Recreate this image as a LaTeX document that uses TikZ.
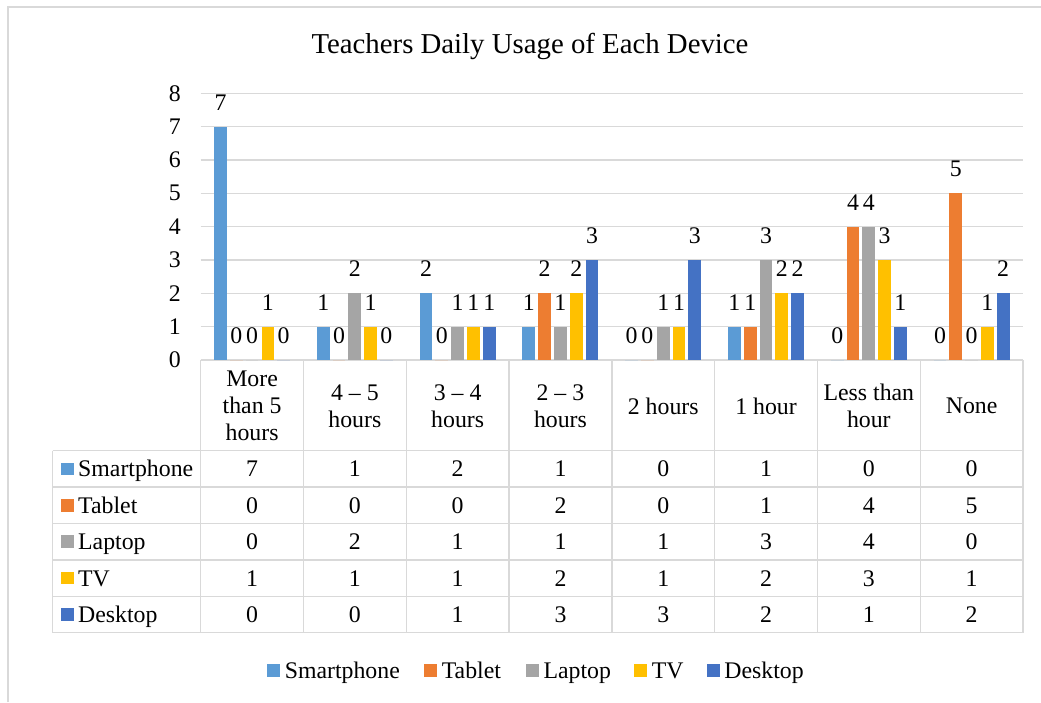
\documentclass[tikz,border=0pt]{standalone}
\usepackage{fontspec}
\setmainfont{Liberation Serif}
\definecolor{cSmart}{HTML}{5B9BD5}
\definecolor{cTab}{HTML}{ED7D31}
\definecolor{cLap}{HTML}{A5A5A5}
\definecolor{cTV}{HTML}{FFC000}
\definecolor{cDesk}{HTML}{4472C4}
\definecolor{gridgray}{HTML}{D9D9D9}

% geometry (pixel units, y grows downwards)
\def\plotL{200.7}   % left edge of plot / table data columns
\def\plotR{1023}    % right edge
\def\catW{102.79}   % width of one category
\def\zeroY{360}     % baseline of the bars
\def\unitY{33.34}   % one unit on the value axis
\def\rowTop{450.7}  % top of the first data row
\def\rowH{36.4}     % height of a data row

% bars and value labels of one series: #1 index, #2 colour, #3 values
\newcommand\drawseries[3]{%
  \foreach \v [count=\c from 0] in {#3} {
    \pgfmathsetmacro\xl{\plotL+\catW*\c+13.4+15.8*#1}
    \pgfmathsetmacro\yt{\zeroY-\unitY*\v}
    \fill[#2] (\xl,\zeroY) rectangle ({\xl+12.7},\yt);
    \node[vlab] (v#1-\c) at ({\xl+6.35},{\yt-16.5}) {\v};
  }
}

% one table row: #1 index, #2 colour, #3 name, #4 values
\newcommand\tablerow[4]{%
  \pgfmathsetmacro\yc{\rowTop+\rowH*#1+\rowH/2}
  \fill[#2] (61,{\yc-6.3}) rectangle (73.7,{\yc+6.3});
  \node[tbl,anchor=base west] (name#1) at (78,{\yc+8}) {#3};
  \foreach \v [count=\c from 0] in {#4} {
    \node[tbl,anchor=base] (t#1-\c) at ({\plotL+\catW*\c+\catW/2},{\yc+8}) {\v};
  }
}

\begin{document}
\begin{tikzpicture}[x=1pt,y=-1pt,
  gridline/.style={draw=gridgray,line width=1.4pt},
  frameline/.style={draw=gridgray,line width=1.2pt},
  vlab/.style={font=\fontsize{23.8}{27}\selectfont,inner sep=0pt,anchor=base},
  tbl/.style={font=\fontsize{23.8}{27}\selectfont,inner sep=0pt},
  hdr/.style={font=\fontsize{23.8}{27}\selectfont,inner sep=0pt,align=center},
  legtext/.style={font=\fontsize{23.8}{27}\selectfont,inner sep=0pt,anchor=base west},
  titletext/.style={font=\fontsize{28.8}{32}\selectfont,inner sep=0pt,anchor=base}]
\useasboundingbox (0,0) rectangle (1041,702);
\fill[white] (0,0) rectangle (1041,702);

% chart frame
\draw[frameline] (8,702) -- (8,7) -- (1041,7);

% title
\node[titletext] (title) at (530,53.3) {Teachers Daily Usage of Each Device};

% horizontal grid lines and value axis labels
\foreach \v in {0,...,8} {
  \draw[gridline] (\plotL,{\zeroY-\unitY*\v}) -- (\plotR,{\zeroY-\unitY*\v});
  \node[tbl,anchor=east] (y\v) at (181,{\zeroY-\unitY*\v}) {\v};
}

% bars
\drawseries{0}{cSmart}{7,1,2,1,0,1,0,0}
\drawseries{1}{cTab}{0,0,0,2,0,1,4,5}
\drawseries{2}{cLap}{0,2,1,1,1,3,4,0}
\drawseries{3}{cTV}{1,1,1,2,1,2,3,1}
\drawseries{4}{cDesk}{0,0,1,3,3,2,1,2}

% data table lines
\foreach \k in {0,...,5}
  \draw[gridline] (52.7,{\rowTop+\rowH*\k}) -- (\plotR,{\rowTop+\rowH*\k});
\draw[gridline] (52.7,\rowTop) -- (52.7,{\rowTop+\rowH*5});
\foreach \c in {0,...,8}
  \draw[gridline] ({\plotL+\catW*\c},\zeroY) -- ({\plotL+\catW*\c},{\rowTop+\rowH*5});

% category headers
\foreach \t [count=\c from 0] in {{More\\than 5\\hours},{4 – 5\\hours},{3 – 4\\hours},{2 – 3\\hours},{2 hours},{1 hour},{Less than\\hour},{None}}
  \node[hdr] (h\c) at ({\plotL+\catW*\c+\catW/2},406) {\t};

% table rows
\tablerow{0}{cSmart}{Smartphone}{7,1,2,1,0,1,0,0}
\tablerow{1}{cTab}{Tablet}{0,0,0,2,0,1,4,5}
\tablerow{2}{cLap}{Laptop}{0,2,1,1,1,3,4,0}
\tablerow{3}{cTV}{TV}{1,1,1,2,1,2,3,1}
\tablerow{4}{cDesk}{Desktop}{0,0,1,3,3,2,1,2}

% legend
\foreach \xs/\col/\name [count=\i] in {267/cSmart/Smartphone,424/cTab/Tablet,525.7/cLap/Laptop,634/cTV/TV,706.6/cDesk/Desktop} {
  \fill[\col] (\xs,663.5) rectangle ({\xs+13},676.5);
  \node[legtext] (leg\i) at ({\xs+17.6},678.5) {\name};
}
\end{tikzpicture}
\end{document}
